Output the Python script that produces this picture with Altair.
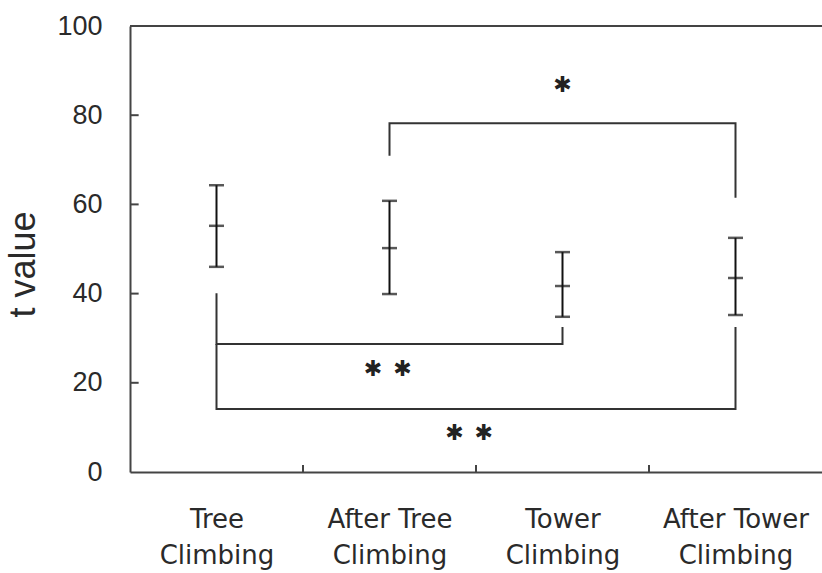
import json
import altair as alt
import pandas as pd

# ---- data ----
categories = ["Tree Climbing", "After Tree Climbing", "Tower Climbing", "After Tower Climbing"]
label_lines = [["Tree", "Climbing"], ["After Tree", "Climbing"], ["Tower", "Climbing"], ["After Tower", "Climbing"]]
positions = [0, 1, 2, 3]
means = [55.2, 50.2, 41.7, 43.5]
uppers = [64.3, 60.8, 49.3, 52.5]
lowers = [46.0, 39.9, 34.8, 35.2]

bracket_ids = ["a"] * 4 + ["b"] * 4 + ["c"] * 4
bracket_order = [0, 1, 2, 3] * 3
bracket_pos = [1, 1, 3, 3, 0, 0, 2, 2, 0, 0, 3, 3]
bracket_val = [70.9, 78.2, 78.2, 61.5, 40.1, 28.7, 28.7, 32.5, 28.7, 14.1, 14.1, 32.5]

star_text = ["✱", "✱\u2002✱", "✱\u2002✱"]
star_pos = [2.0, 0.99, 1.46]
star_val = [86.8, 23.1, 8.7]

y_ticks = [0, 20, 40, 60, 80, 100]
y_inner_ticks = [20, 40, 60, 80]
x_boundaries = [0.5, 1.5, 2.5]

W, H = 692, 446
AX = "#444"

# ---- tables ----
err = pd.DataFrame({"cat": categories, "pos": positions, "mean": means, "upper": uppers, "lower": lowers})
caps = pd.DataFrame({
    "pos": positions * 3,
    "value": lowers + means + uppers,
})
brackets = pd.DataFrame({"id": bracket_ids, "order": bracket_order, "pos": bracket_pos, "value": bracket_val})
stars = pd.DataFrame({"text": star_text, "pos": star_pos, "value": star_val})
ytk = pd.DataFrame({"value": y_inner_ticks})
xtk = pd.DataFrame({"pos": x_boundaries})

x_scale = alt.Scale(domain=[-0.5, 3.5], nice=False, zero=False)
y_scale = alt.Scale(domain=[0, 100], nice=False)

x_axis = alt.Axis(
    values=positions,
    labelExpr=json.dumps(label_lines) + "[datum.value]",
    ticks=False, grid=False, domainColor=AX, domainWidth=2,
    labelFont="DejaVu Sans", labelFontSize=26, labelLineHeight=36,
    labelPadding=34, labelColor="#2a2a2a", labelBaseline="top",
    labelFlush=False, labelOverlap=False, title=None,
)
y_axis = alt.Axis(
    values=y_ticks, ticks=False, grid=False, domainColor=AX, domainWidth=2,
    labelFont="Liberation Sans", labelFontSize=27, labelPadding=28, labelColor="#2a2a2a",
    title="t value", titleFont="Liberation Sans", titleFontSize=36, titleFontWeight="normal",
    titleColor="#2a2a2a", titleX=-88, titleY=238,
)


def X(f):
    return alt.X(f"{f}:Q", scale=x_scale, axis=x_axis, title=None)


def Y(f):
    return alt.Y(f"{f}:Q", scale=y_scale, axis=y_axis, title="t value")


err_rule = alt.Chart(err).mark_rule(color="#111", strokeWidth=2).encode(
    x=X("pos"), y=Y("lower"), y2="upper"
)
err_caps = alt.Chart(caps).mark_tick(color="#111", thickness=2.5, size=15, orient="horizontal").encode(
    x=X("pos"), y=Y("value")
)
bracket_lines = alt.Chart(brackets).mark_line(color="#333", strokeWidth=2).encode(
    x=X("pos"), y=Y("value"), detail="id:N", order="order:Q"
)
star_marks = alt.Chart(stars).mark_text(
    font="DejaVu Sans", fontSize=22, color="#222", baseline="middle"
).encode(x=X("pos"), y=Y("value"), text="text:N")

top_line = alt.Chart(pd.DataFrame({"value": [100]})).mark_rule(color=AX, strokeWidth=2).encode(
    y=Y("value")
)
y_in_ticks = alt.Chart(ytk).mark_rule(color=AX, strokeWidth=2).encode(
    y=Y("value"), x=alt.datum(-0.5), x2=alt.datum(-0.45)
)
x_in_ticks = alt.Chart(xtk).mark_rule(color=AX, strokeWidth=2).encode(
    x=X("pos"), y=alt.value(H), y2=alt.value(H - 7)
)

chart = alt.layer(
    top_line, y_in_ticks, x_in_ticks, bracket_lines, err_rule, err_caps, star_marks
).properties(
    width=W, height=H,
    autosize="none",
    padding={"left": 130, "top": 26, "right": 0, "bottom": 101},
    background="white",
).configure_view(stroke=None)

chart.save("out.html", embed_options={"renderer": "svg", "actions": False})
